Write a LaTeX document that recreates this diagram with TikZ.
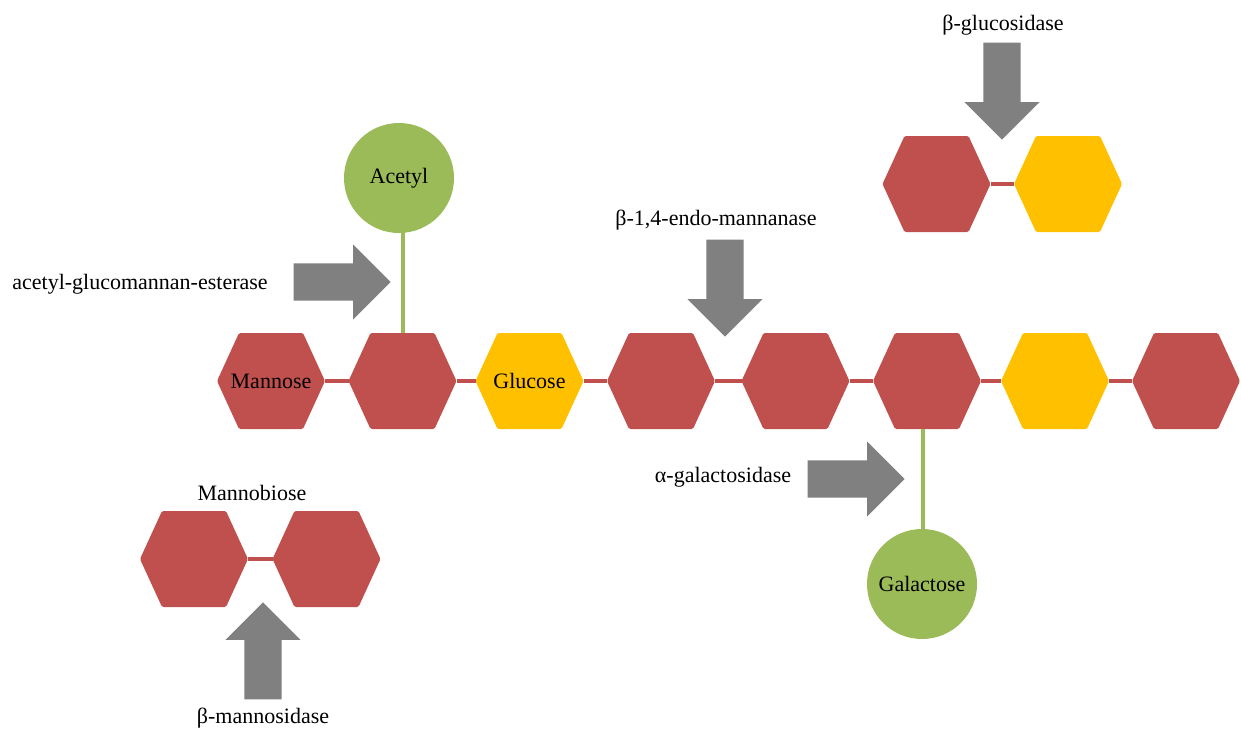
\documentclass[tikz,border=0pt]{standalone}
\usepackage{fontspec}
\setmainfont{Liberation Serif}
\usetikzlibrary{shapes.arrows}
\definecolor{hexred}{HTML}{C0504D}
\definecolor{hexyel}{HTML}{FFC000}
\definecolor{accgreen}{HTML}{9BBB59}
\definecolor{arrgray}{HTML}{808080}
\tikzset{
  hexa/.style={rectangle, minimum width=108pt, minimum height=96pt, inner sep=0pt, outer sep=0pt,
    path picture={\fill[#1, rounded corners=1.5pt] (path picture bounding box.west)
      -- ([xshift=22pt]path picture bounding box.north west)
      -- ([xshift=-22pt]path picture bounding box.north east)
      -- (path picture bounding box.east)
      -- ([xshift=-22pt]path picture bounding box.south east)
      -- ([xshift=22pt]path picture bounding box.south west) -- cycle;}},
  link/.style={draw=hexred, line width=4pt},
  glink/.style={draw=accgreen, line width=4pt},
  sub/.style={circle, fill=accgreen, minimum size=110pt, inner sep=0pt},
  bigarrow/.style={single arrow, fill=arrgray, draw=none, minimum height=97pt,
    inner xsep=0pt, inner ysep=18.5pt, single arrow head extend=19pt,
    single arrow tip angle=90, single arrow head indent=0pt, anchor=tip},
  lab/.style={inner sep=0pt}
}
\begin{document}
\begin{tikzpicture}[x=1pt,y=-1pt,font=\fontsize{22}{26}\selectfont]
\useasboundingbox (0,0) rectangle (1241,731);
% main chain
\node[hexa=hexred] (h1) at (271,381) {Mannose};
\node[hexa=hexred] (h2) at (402.5,381) {};
\node[hexa=hexyel] (h3) at (529.5,381) {Glucose};
\node[hexa=hexred] (h4) at (661,381) {};
\node[hexa=hexred] (h5) at (795.5,381) {};
\node[hexa=hexred] (h6) at (927,381) {};
\node[hexa=hexyel] (h7) at (1055,381) {};
\node[hexa=hexred] (h8) at (1186,381) {};
\draw[link] (h1.east) -- (h2.west);
\draw[link] (h2.east) -- (h3.west);
\draw[link] (h3.east) -- (h4.west);
\draw[link] (h4.east) -- (h5.west);
\draw[link] (h5.east) -- (h6.west);
\draw[link] (h6.east) -- (h7.west);
\draw[link] (h7.east) -- (h8.west);
% acetyl
\node[sub] (acetyl) at (399,178) {Acetyl};
\coordinate (acbot) at (403,231);
\draw[glink] (acbot) -- (acbot |- h2.north);
\node[bigarrow] (aarrow) at (391,282) {};
\node[lab] (aesterase) at (140,284) {acetyl-glucomannan-esterase};
% galactose
\node[sub] (gal) at (922,584) {Galactose};
\coordinate (galtop) at (923,530);
\draw[glink] (galtop) -- (galtop |- h6.south);
\node[bigarrow] (garrow) at (905,479) {};
\node[lab] (agal) at (723,477) {α-galactosidase};
% endo-mannanase
\node[bigarrow, rotate=-90] (earrow) at (725,337) {};
\node[lab] (endo) at (716,220) {β-1,4-endo-mannanase};
% beta-glucosidase
\node[hexa=hexred] (g1) at (936.5,184) {};
\node[hexa=hexyel] (g2) at (1068,184) {};
\draw[link] (g1.east) -- (g2.west);
\node[bigarrow, rotate=-90] (bgarrow) at (1002,140) {};
\node[lab] (bglu) at (1003,25) {β-glucosidase};
% mannobiose
\node[hexa=hexred] (b1) at (194,559) {};
\node[hexa=hexred] (b2) at (326.5,559) {};
\draw[link] (b1.east) -- (b2.west);
\node[lab] (mannobiose) at (252,493) {Mannobiose};
\node[bigarrow, rotate=90] (bmarrow) at (263,602) {};
\node[lab] (bman) at (263,718) {β-mannosidase};
\end{tikzpicture}
\end{document}
